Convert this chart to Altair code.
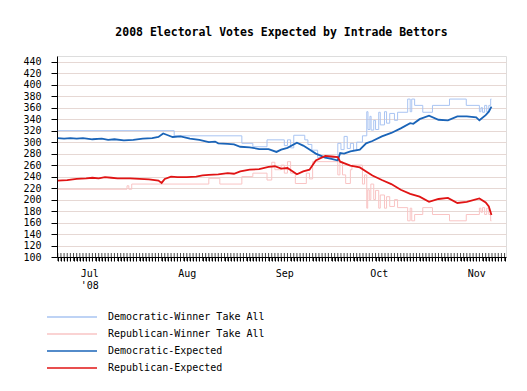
import altair as alt
import pandas as pd

SERIES = ["Democratic-Winner Take All", "Republican-Winner Take All",
          "Democratic-Expected", "Republican-Expected"]
COLORS = ["#a9c4f2", "#f9c4c4", "#1a64b8", "#e01414"]

dem_exp_dates = ["06-21", "06-23", "06-25", "06-27", "06-29", "07-02", "07-05", "07-07",
                 "07-09", "07-12", "07-15", "07-18", "07-21", "07-23", "07-24T12", "07-26",
                 "07-27T12", "07-30", "08-02", "08-05", "08-08", "08-10", "08-11", "08-14",
                 "08-16", "08-18", "08-21", "08-24", "08-27", "08-29T12", "08-31", "09-02",
                 "09-05", "09-07", "09-09", "09-11", "09-14", "09-16", "09-18", "09-18T18",
                 "09-20", "09-22", "09-25", "09-27", "09-29", "10-02", "10-05", "10-08",
                 "10-11", "10-12", "10-14", "10-17", "10-20", "10-23", "10-26", "10-29",
                 "11-01", "11-02", "11-04", "11-05", "11-05T20"]
dem_exp_values = [307, 306, 307, 306, 307, 305, 306, 304,
                  305, 303, 304, 306, 307, 309, 315, 312,
                  309, 310, 306, 304, 300, 301, 298, 297,
                  296, 292, 291, 288, 288, 283, 287, 290,
                  299, 294, 287, 280, 273, 271, 268, 281,
                  280, 284, 287, 298, 302, 310, 316, 324,
                  333, 332, 340, 346, 339, 338, 345, 345,
                  343, 338, 347, 353, 362]

rep_exp_dates = ["06-21", "06-24", "06-27", "06-30", "07-02", "07-04", "07-06", "07-08",
                 "07-10", "07-14", "07-17", "07-20", "07-23", "07-24", "07-25", "07-27",
                 "07-29", "08-01", "08-04", "08-06", "08-08", "08-11", "08-14", "08-16",
                 "08-18", "08-21", "08-24", "08-27", "08-29", "08-31", "09-02", "09-05",
                 "09-07", "09-09", "09-11", "09-14", "09-16", "09-18", "09-18T18", "09-22",
                 "09-25", "09-27", "09-29", "10-02", "10-05", "10-08", "10-11", "10-14",
                 "10-17", "10-20", "10-23", "10-26", "10-29", "11-02", "11-04", "11-05",
                 "11-05T20"]
rep_exp_values = [233, 234, 236, 237, 238, 237, 239, 238,
                  237, 237, 236, 235, 233, 229, 236, 240,
                  239, 239, 240, 242, 243, 244, 246, 245,
                  249, 252, 253, 257, 258, 254, 255, 244,
                  249, 252, 268, 276, 275, 274, 266, 259,
                  256, 249, 242, 234, 227, 217, 210, 205,
                  196, 201, 203, 194, 196, 202, 195, 188,
                  173]

dem_wta_dates = ["06-21", "07-28", "08-18T12", "08-22", "08-26T12", "09-01", "09-02", "09-03",
                 "09-04", "09-07T12", "09-08T12", "09-09T18", "09-11T14", "09-18", "09-19",
                 "09-20", "09-21", "09-22", "09-23", "09-24", "09-25T20", "09-27T05", "09-27T14",
                 "09-28T05", "09-28T14", "09-29T10", "09-30", "10-01", "10-01T12", "10-02T20",
                 "10-03T12", "10-04T12", "10-06", "10-07", "10-10T05", "10-11", "10-11T12",
                 "10-12T10", "10-15", "10-18T02", "10-23T12", "10-28T20", "11-02", "11-02T12",
                 "11-03", "11-03T16", "11-04T08", "11-05", "11-05T14", "11-05T20"]
dem_wta_values = [320, 311, 298, 292, 304, 294, 304, 290,
                  312, 304, 296, 286, 273, 298, 287,
                  310, 289, 298, 286, 300, 311, 353, 322,
                  345, 321, 338, 322, 352, 330, 353,
                  333, 350, 338, 352, 375, 353, 375,
                  364, 352, 364, 375, 364, 353, 360,
                  352, 364, 353, 364, 375, 375]

rep_wta_dates = ["06-21", "07-13", "07-13T14", "07-14T12", "08-08", "08-11T12", "08-18T12",
                 "08-22", "08-26T12", "08-28", "08-29", "08-31", "09-01", "09-02", "09-03",
                 "09-04T12", "09-08", "09-09", "09-10", "09-18", "09-18T16", "09-19T12",
                 "09-20T12", "09-22", "09-22T12", "09-25T20", "09-26T12", "09-27T05",
                 "09-27T12", "09-28", "09-28T12", "09-29T10", "09-30", "10-01", "10-01T12",
                 "10-02T20", "10-03T12", "10-04T12", "10-06", "10-07", "10-10T05", "10-11",
                 "10-11T12", "10-12T10", "10-15", "10-18T02", "10-23T12", "10-28T20",
                 "11-02", "11-02T12", "11-03", "11-03T16", "11-04T08", "11-05", "11-05T14",
                 "11-05T20"]
rep_wta_values = [218, 224, 218, 227, 237, 227, 240,
                  246, 234, 265, 252, 260, 246, 266, 246,
                  228, 246, 236, 266, 243, 266, 243,
                  228, 252, 260, 227, 243, 185,
                  217, 200, 227, 200, 216, 185, 208,
                  185, 205, 188, 200, 186, 163, 185,
                  163, 174, 186, 174, 163, 174,
                  185, 178, 186, 174, 185, 174, 163,
                  163]

Y_TICKS = list(range(100, 441, 20))
DAY_TICKS = [alt.DateTime(year=d.year, month=d.month, date=d.day)
             for d in pd.date_range("2008-06-21", "2008-11-10")]
DAY_MARKS = [d.strftime("%Y-%m-%dT00:00") for d in pd.date_range("2008-06-21", "2008-11-10")]
X_DOMAIN = ["2008-06-20T18:00", "2008-11-10T11:00"]
Y_DOMAIN = [100, 450]
TITLE = "2008 Electoral Votes Expected by Intrade Bettors"
FONT = "DejaVu Sans Mono"
PLOT_W, PLOT_H = 449, 201


def to_ts(d):
    if "T" in d:
        day, hour = d.split("T")
        return f"2008-{day}T{hour.zfill(2)}:00"
    return f"2008-{d}T00:00"


def frame(name, dates, values):
    return pd.DataFrame({"series": name, "date": [to_ts(d) for d in dates], "value": values})


wta = pd.concat([frame(SERIES[0], dem_wta_dates, dem_wta_values),
                 frame(SERIES[1], rep_wta_dates, rep_wta_values)])
exp = pd.concat([frame(SERIES[2], dem_exp_dates, dem_exp_values),
                 frame(SERIES[3], rep_exp_dates, rep_exp_values)])
days = pd.DataFrame({"date": DAY_MARKS, "value": [100] * len(DAY_MARKS)})

xscale = alt.Scale(domain=X_DOMAIN, nice=False)
yscale = alt.Scale(domain=Y_DOMAIN, nice=False, zero=False)
color = alt.Color("series:N", scale=alt.Scale(domain=SERIES, range=COLORS),
                  legend=alt.Legend(title=None, orient="none", legendX=-11, legendY=255,
                                    symbolType="stroke", symbolSize=2500, clipHeight=12,
                                    rowPadding=5, labelOffset=10, labelFont=FONT,
                                    labelFontSize=10, labelColor="black",
                                    symbolStrokeWidth=1.5))

yaxis = alt.Axis(values=Y_TICKS, grid=True, gridColor="#e6d8d4", gridWidth=1,
                 tickSize=6, tickColor="black", domainColor="black", labelPadding=10,
                 labelFont=FONT, labelFontSize=10, labelColor="black", title=None)

xaxis = alt.Axis(values=DAY_TICKS, orient="bottom", grid=False,
                 tickSize=4, tickWidth=1, tickColor="black", tickRound=True,
                 domainColor="black", labelFont=FONT,
                 labelFontSize=10, labelColor="black", labelPadding=7, labelOverlap=False,
                 labelBound=False, labelFlush=False,
                 labelExpr="date(datum.value) != 1 ? '' : (month(datum.value) == 6 ? ['Jul', \"'08\"] : timeFormat(datum.value, '%b'))",
                 title=None)

wta_chart = alt.Chart(wta).mark_line(interpolate="step-after", strokeWidth=1).encode(
    x=alt.X("date:T", scale=xscale, axis=xaxis),
    y=alt.Y("value:Q", scale=yscale, axis=yaxis),
    color=color,
    detail="series:N",
)
exp_chart = alt.Chart(exp).mark_line(strokeWidth=1.8).encode(
    x=alt.X("date:T", scale=xscale, axis=xaxis),
    y=alt.Y("value:Q", scale=yscale, axis=yaxis),
    color=color,
    detail="series:N",
)
minor_ticks = alt.Chart(days).mark_tick(color="black", orient="vertical", thickness=1,
                                        size=8, clip=False).encode(
    x=alt.X("date:T", scale=xscale, axis=xaxis),
    y=alt.Y("value:Q", scale=yscale, axis=yaxis),
)

chart = alt.layer(wta_chart, exp_chart, minor_ticks).properties(
    width=PLOT_W, height=PLOT_H,
    autosize=alt.AutoSizeParams(type="none"),
    padding={"left": 49, "top": 48, "right": 10, "bottom": 125},
    title=alt.TitleParams(TITLE, font=FONT, fontSize=11.5, fontWeight="bold",
                          color="black", anchor="middle", offset=18),
).configure_view(stroke=None).configure(background="white")

chart.save("out.html", embed_options={"renderer": "svg", "actions": False})
